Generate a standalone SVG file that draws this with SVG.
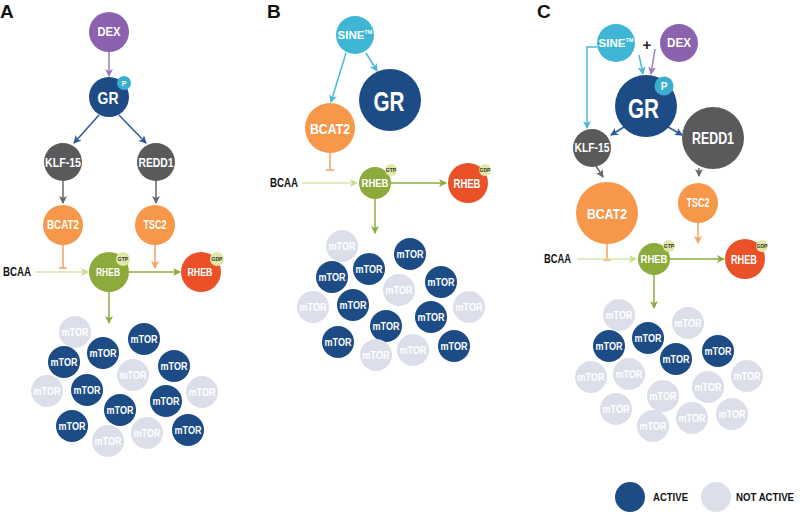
<svg xmlns="http://www.w3.org/2000/svg" width="800" height="518" viewBox="0 0 800 518">
<style>
text{font-family:"Liberation Sans",Arial,sans-serif;font-weight:700}
.c{text-anchor:middle;dominant-baseline:central;fill:#fff}
.dex{fill:#8b62ae}.gr{fill:#1c4b86}.gry{fill:#5a5a5c}.org{fill:#f7974a}.grn{fill:#8cab3c}.red{fill:#ea5128}.sine{fill:#3fb6d6}
.pb{fill:#3aaed0}.gb{fill:#dfe9a6}
.on{fill:#1c4b86}.off{fill:#dcdfea}
.m{font-size:11.5px}
.bt{font-size:5px;fill:#333;text-anchor:middle;dominant-baseline:central}
.lbl{font-size:19px;fill:#111}
.k{font-size:12.5px;fill:#111}
.ln{fill:none;stroke-width:1.5}
</style>
<defs>
<marker id="aP" markerWidth="8" markerHeight="8" refX="7" refY="4" orient="auto" markerUnits="userSpaceOnUse"><path d="M0,0 L8,4 L0,8 L2,4 z" fill="#9a7cc0"/></marker>
<marker id="aB" markerWidth="8" markerHeight="8" refX="7" refY="4" orient="auto" markerUnits="userSpaceOnUse"><path d="M0,0 L8,4 L0,8 L2,4 z" fill="#2c5b99"/></marker>
<marker id="aG" markerWidth="8" markerHeight="8" refX="7" refY="4" orient="auto" markerUnits="userSpaceOnUse"><path d="M0,0 L8,4 L0,8 L2,4 z" fill="#666"/></marker>
<marker id="aO" markerWidth="8" markerHeight="8" refX="7" refY="4" orient="auto" markerUnits="userSpaceOnUse"><path d="M0,0 L8,4 L0,8 L2,4 z" fill="#f4a266"/></marker>
<marker id="aN" markerWidth="8" markerHeight="8" refX="7" refY="4" orient="auto" markerUnits="userSpaceOnUse"><path d="M0,0 L8,4 L0,8 L2,4 z" fill="#8cab3c"/></marker>
<marker id="aL" markerWidth="8" markerHeight="8" refX="7" refY="4" orient="auto" markerUnits="userSpaceOnUse"><path d="M0,0 L8,4 L0,8 L2,4 z" fill="#c9dd90"/></marker>
<marker id="aC" markerWidth="8" markerHeight="8" refX="7" refY="4" orient="auto" markerUnits="userSpaceOnUse"><path d="M0,0 L8,4 L0,8 L2,4 z" fill="#4ab8d6"/></marker>
</defs>
<rect width="800" height="518" fill="#fff"/>

<text class="lbl" x="0" y="18">A</text>
<text class="lbl" x="267" y="18">B</text>
<text class="lbl" x="537" y="18">C</text>

<g id="connectors">
<line class="ln" x1="109" y1="52" x2="109" y2="76" stroke="#9a7cc0" marker-end="url(#aP)"/>
<line class="ln" x1="99" y1="115" x2="74" y2="143" stroke="#2c5b99" marker-end="url(#aB)"/>
<line class="ln" x1="119" y1="115" x2="146" y2="143" stroke="#2c5b99" marker-end="url(#aB)"/>
<line class="ln" x1="63" y1="181" x2="63" y2="203" stroke="#666" marker-end="url(#aG)"/>
<line class="ln" x1="156" y1="181" x2="156" y2="203" stroke="#666" marker-end="url(#aG)"/>
<line class="ln" x1="63" y1="245" x2="63" y2="268" stroke="#f4a266"/>
<line class="ln" x1="59" y1="268" x2="67" y2="268" stroke="#f4a266"/>
<line class="ln" x1="155" y1="245" x2="155" y2="268" stroke="#f4a266" marker-end="url(#aO)"/>
<line class="ln" x1="35" y1="272" x2="88" y2="272" stroke="#d6e6ab" marker-end="url(#aL)"/>
<line class="ln" x1="129" y1="272" x2="180" y2="272" stroke="#8cab3c" marker-end="url(#aN)"/>
<line class="ln" x1="109" y1="292" x2="109" y2="323" stroke="#8cab3c" marker-end="url(#aN)"/>
<line class="ln" x1="366" y1="53" x2="377" y2="71" stroke="#4ab8d6" marker-end="url(#aC)"/>
<line class="ln" x1="346" y1="53" x2="331" y2="102" stroke="#4ab8d6" marker-end="url(#aC)"/>
<line class="ln" x1="330" y1="153" x2="330" y2="170" stroke="#f4a266"/>
<line class="ln" x1="326" y1="170" x2="334" y2="170" stroke="#f4a266"/>
<line class="ln" x1="302" y1="183" x2="357" y2="183" stroke="#d6e6ab" marker-end="url(#aL)"/>
<line class="ln" x1="391" y1="183" x2="446" y2="183" stroke="#8cab3c" marker-end="url(#aN)"/>
<line class="ln" x1="375" y1="199" x2="375" y2="233" stroke="#8cab3c" marker-end="url(#aN)"/>
<line class="ln" x1="639" y1="55" x2="643" y2="74" stroke="#4ab8d6" marker-end="url(#aC)"/>
<line class="ln" x1="655" y1="49" x2="651" y2="74" stroke="#9a7cc0" marker-end="url(#aP)"/>
<polyline class="ln" points="597,47 587,47 587,128" stroke="#4ab8d6" marker-end="url(#aC)"/>
<line class="ln" x1="624" y1="127" x2="611" y2="135" stroke="#2c5b99" marker-end="url(#aB)"/>
<line class="ln" x1="668" y1="127" x2="682" y2="135" stroke="#2c5b99" marker-end="url(#aB)"/>
<line class="ln" x1="596" y1="166" x2="603" y2="177" stroke="#666" marker-end="url(#aG)"/>
<line class="ln" x1="699" y1="168" x2="699" y2="176" stroke="#666" marker-end="url(#aG)"/>
<line class="ln" x1="607" y1="244" x2="607" y2="260" stroke="#f4a266"/>
<line class="ln" x1="603" y1="260" x2="611" y2="260" stroke="#f4a266"/>
<line class="ln" x1="698" y1="223" x2="698" y2="243" stroke="#f4a266" marker-end="url(#aO)"/>
<line class="ln" x1="577" y1="259" x2="636" y2="259" stroke="#d6e6ab" marker-end="url(#aL)"/>
<line class="ln" x1="670" y1="259" x2="724" y2="259" stroke="#8cab3c" marker-end="url(#aN)"/>
<line class="ln" x1="654" y1="275" x2="654" y2="308" stroke="#8cab3c" marker-end="url(#aN)"/>
</g>

<g id="A-DEX"><circle class="dex" cx="109" cy="32" r="20"/><text class="c" x="109" y="32" font-size="12" textLength="23" lengthAdjust="spacingAndGlyphs">DEX</text></g>
<g id="A-GR"><circle class="gr" cx="109" cy="97" r="20"/><text class="c" x="108" y="98" font-size="17" textLength="21" lengthAdjust="spacingAndGlyphs">GR</text><circle class="pb" cx="124" cy="83" r="7"/><text class="c" x="124" y="83" font-size="7">P</text></g>
<g id="A-KLF15"><circle class="gry" cx="63" cy="162" r="19"/><text class="c" x="63" y="162" font-size="13" textLength="36" lengthAdjust="spacingAndGlyphs">KLF-15</text></g>
<g id="A-REDD1"><circle class="gry" cx="156" cy="162" r="19"/><text class="c" x="156" y="162" font-size="13" textLength="35" lengthAdjust="spacingAndGlyphs">REDD1</text></g>
<g id="A-BCAT2"><circle class="org" cx="63" cy="225" r="20"/><text class="c" x="63" y="225" font-size="12.5" textLength="32" lengthAdjust="spacingAndGlyphs">BCAT2</text></g>
<g id="A-TSC2"><circle class="org" cx="155" cy="225" r="20"/><text class="c" x="155" y="225" font-size="12.5" textLength="23" lengthAdjust="spacingAndGlyphs">TSC2</text></g>
<g id="A-BCAA"><text class="k" x="3" y="276" textLength="28" lengthAdjust="spacingAndGlyphs">BCAA</text></g>
<g id="A-RHEB-GTP"><circle class="grn" cx="109" cy="272" r="20"/><text class="c" x="108" y="272" font-size="11.5" textLength="24" lengthAdjust="spacingAndGlyphs">RHEB</text><circle class="gb" cx="123" cy="259" r="7"/><text class="bt" x="123" y="259">GTP</text></g>
<g id="A-RHEB-GDP"><circle class="red" cx="201" cy="272" r="20"/><text class="c" x="200" y="272" font-size="11.5" textLength="25" lengthAdjust="spacingAndGlyphs">RHEB</text><circle class="gb" cx="217" cy="259" r="7"/><text class="bt" x="217" y="259">GDP</text></g>

<g id="A-mTOR">
<g id="A-m1"><circle class="off" cx="75" cy="332" r="16"/><text class="c m" x="75" y="332" textLength="27" lengthAdjust="spacingAndGlyphs">mTOR</text></g>
<g id="A-m2"><circle class="on" cx="103" cy="353" r="16"/><text class="c m" x="103" y="353" textLength="27" lengthAdjust="spacingAndGlyphs">mTOR</text></g>
<g id="A-m3"><circle class="on" cx="144" cy="339" r="16"/><text class="c m" x="144" y="339" textLength="27" lengthAdjust="spacingAndGlyphs">mTOR</text></g>
<g id="A-m4"><circle class="on" cx="64" cy="362" r="16"/><text class="c m" x="64" y="362" textLength="27" lengthAdjust="spacingAndGlyphs">mTOR</text></g>
<g id="A-m5"><circle class="off" cx="133" cy="375" r="16"/><text class="c m" x="133" y="375" textLength="27" lengthAdjust="spacingAndGlyphs">mTOR</text></g>
<g id="A-m6"><circle class="on" cx="174" cy="366" r="16"/><text class="c m" x="174" y="366" textLength="27" lengthAdjust="spacingAndGlyphs">mTOR</text></g>
<g id="A-m7"><circle class="off" cx="47" cy="391" r="16"/><text class="c m" x="47" y="391" textLength="27" lengthAdjust="spacingAndGlyphs">mTOR</text></g>
<g id="A-m8"><circle class="on" cx="87" cy="390" r="16"/><text class="c m" x="87" y="390" textLength="27" lengthAdjust="spacingAndGlyphs">mTOR</text></g>
<g id="A-m9"><circle class="on" cx="166" cy="401" r="16"/><text class="c m" x="166" y="401" textLength="27" lengthAdjust="spacingAndGlyphs">mTOR</text></g>
<g id="A-m10"><circle class="off" cx="202" cy="392" r="16"/><text class="c m" x="202" y="392" textLength="27" lengthAdjust="spacingAndGlyphs">mTOR</text></g>
<g id="A-m11"><circle class="on" cx="120" cy="410" r="16"/><text class="c m" x="120" y="410" textLength="27" lengthAdjust="spacingAndGlyphs">mTOR</text></g>
<g id="A-m12"><circle class="on" cx="72" cy="426" r="16"/><text class="c m" x="72" y="426" textLength="27" lengthAdjust="spacingAndGlyphs">mTOR</text></g>
<g id="A-m13"><circle class="off" cx="108" cy="441" r="16"/><text class="c m" x="108" y="441" textLength="27" lengthAdjust="spacingAndGlyphs">mTOR</text></g>
<g id="A-m14"><circle class="off" cx="147" cy="433" r="16"/><text class="c m" x="147" y="433" textLength="27" lengthAdjust="spacingAndGlyphs">mTOR</text></g>
<g id="A-m15"><circle class="on" cx="188" cy="430" r="16"/><text class="c m" x="188" y="430" textLength="27" lengthAdjust="spacingAndGlyphs">mTOR</text></g>
</g>

<g id="B-SINE"><circle class="sine" cx="355" cy="35" r="19"/><text class="c" x="355" y="35" font-size="11.5">SINE<tspan font-size="5.5" dy="-3">TM</tspan></text></g>
<g id="B-GR"><circle class="gr" cx="390" cy="100" r="31"/><text class="c" x="389" y="101" font-size="28" textLength="31" lengthAdjust="spacingAndGlyphs">GR</text></g>
<g id="B-BCAT2"><circle class="org" cx="330" cy="128" r="25"/><text class="c" x="330" y="128" font-size="15" textLength="40" lengthAdjust="spacingAndGlyphs">BCAT2</text></g>
<g id="B-BCAA"><text class="k" x="270" y="187" textLength="28" lengthAdjust="spacingAndGlyphs">BCAA</text></g>
<g id="B-RHEB-GTP"><circle class="grn" cx="375" cy="183" r="16"/><text class="c" x="375" y="183" font-size="11.5" textLength="27" lengthAdjust="spacingAndGlyphs">RHEB</text><circle class="gb" cx="391" cy="170" r="6"/><text class="bt" x="391" y="170" font-size="4.5">GTP</text></g>
<g id="B-RHEB-GDP"><circle class="red" cx="468" cy="183" r="20"/><text class="c" x="467" y="184" font-size="12" textLength="27" lengthAdjust="spacingAndGlyphs">RHEB</text><circle class="gb" cx="485" cy="170" r="6"/><text class="bt" x="485" y="170" font-size="4.5">GDP</text></g>

<g id="B-mTOR">
<g id="B-m1"><circle class="off" cx="342" cy="246" r="16"/><text class="c m" x="342" y="246" textLength="27" lengthAdjust="spacingAndGlyphs">mTOR</text></g>
<g id="B-m2"><circle class="on" cx="410" cy="254" r="16"/><text class="c m" x="410" y="254" textLength="27" lengthAdjust="spacingAndGlyphs">mTOR</text></g>
<g id="B-m3"><circle class="on" cx="369" cy="269" r="16"/><text class="c m" x="369" y="269" textLength="27" lengthAdjust="spacingAndGlyphs">mTOR</text></g>
<g id="B-m4"><circle class="on" cx="332" cy="277" r="16"/><text class="c m" x="332" y="277" textLength="27" lengthAdjust="spacingAndGlyphs">mTOR</text></g>
<g id="B-m5"><circle class="on" cx="441" cy="282" r="16"/><text class="c m" x="441" y="282" textLength="27" lengthAdjust="spacingAndGlyphs">mTOR</text></g>
<g id="B-m6"><circle class="off" cx="399" cy="290" r="16"/><text class="c m" x="399" y="290" textLength="27" lengthAdjust="spacingAndGlyphs">mTOR</text></g>
<g id="B-m7"><circle class="off" cx="313" cy="307" r="16"/><text class="c m" x="313" y="307" textLength="27" lengthAdjust="spacingAndGlyphs">mTOR</text></g>
<g id="B-m8"><circle class="on" cx="353" cy="305" r="16"/><text class="c m" x="353" y="305" textLength="27" lengthAdjust="spacingAndGlyphs">mTOR</text></g>
<g id="B-m9"><circle class="off" cx="469" cy="307" r="16"/><text class="c m" x="469" y="307" textLength="27" lengthAdjust="spacingAndGlyphs">mTOR</text></g>
<g id="B-m10"><circle class="on" cx="431" cy="317" r="16"/><text class="c m" x="431" y="317" textLength="27" lengthAdjust="spacingAndGlyphs">mTOR</text></g>
<g id="B-m11"><circle class="on" cx="386" cy="326" r="16"/><text class="c m" x="386" y="326" textLength="27" lengthAdjust="spacingAndGlyphs">mTOR</text></g>
<g id="B-m12"><circle class="on" cx="338" cy="342" r="16"/><text class="c m" x="338" y="342" textLength="27" lengthAdjust="spacingAndGlyphs">mTOR</text></g>
<g id="B-m13"><circle class="off" cx="376" cy="355" r="16"/><text class="c m" x="376" y="355" textLength="27" lengthAdjust="spacingAndGlyphs">mTOR</text></g>
<g id="B-m14"><circle class="off" cx="413" cy="350" r="16"/><text class="c m" x="413" y="350" textLength="27" lengthAdjust="spacingAndGlyphs">mTOR</text></g>
<g id="B-m15"><circle class="on" cx="454" cy="346" r="16"/><text class="c m" x="454" y="346" textLength="27" lengthAdjust="spacingAndGlyphs">mTOR</text></g>
</g>

<g id="C-SINE"><circle class="sine" cx="616" cy="43" r="19"/><text class="c" x="616" y="43" font-size="11.5">SINE<tspan font-size="5.5" dy="-3">TM</tspan></text></g>
<g id="C-plus"><text class="c" x="647" y="44" font-size="15" style="fill:#222">+</text></g>
<g id="C-DEX"><circle class="dex" cx="679" cy="43" r="19"/><text class="c" x="679" y="43" font-size="12" textLength="24" lengthAdjust="spacingAndGlyphs">DEX</text></g>
<g id="C-GR"><circle class="gr" cx="646" cy="106" r="31"/><text class="c" x="643.5" y="108" font-size="28" textLength="31" lengthAdjust="spacingAndGlyphs">GR</text><circle class="pb" cx="664" cy="86" r="9.5"/><text class="c" x="664" y="86" font-size="10">P</text></g>
<g id="C-KLF15"><circle class="gry" cx="592" cy="148" r="19"/><text class="c" x="592" y="148" font-size="12.5" textLength="35" lengthAdjust="spacingAndGlyphs">KLF-15</text></g>
<g id="C-REDD1"><circle class="gry" cx="713" cy="138" r="31"/><text class="c" x="713" y="138" font-size="16" textLength="42" lengthAdjust="spacingAndGlyphs">REDD1</text></g>
<g id="C-BCAT2"><circle class="org" cx="607" cy="213" r="31"/><text class="c" x="607" y="213" font-size="15.5" textLength="40" lengthAdjust="spacingAndGlyphs">BCAT2</text></g>
<g id="C-TSC2"><circle class="org" cx="698" cy="203" r="20"/><text class="c" x="698" y="203" font-size="12.5" textLength="23" lengthAdjust="spacingAndGlyphs">TSC2</text></g>
<g id="C-BCAA"><text class="k" x="544" y="263" textLength="27" lengthAdjust="spacingAndGlyphs">BCAA</text></g>
<g id="C-RHEB-GTP"><circle class="grn" cx="654" cy="259" r="16"/><text class="c" x="654" y="259" font-size="11.5" textLength="27" lengthAdjust="spacingAndGlyphs">RHEB</text><circle class="gb" cx="669" cy="246" r="6"/><text class="bt" x="669" y="246" font-size="4.5">GTP</text></g>
<g id="C-RHEB-GDP"><circle class="red" cx="745" cy="259" r="20"/><text class="c" x="744" y="260" font-size="12" textLength="26" lengthAdjust="spacingAndGlyphs">RHEB</text><circle class="gb" cx="762" cy="246" r="6"/><text class="bt" x="762" y="246" font-size="4.5">GDP</text></g>

<g id="C-mTOR">
<g id="C-m1"><circle class="off" cx="619" cy="315" r="16"/><text class="c m" x="619" y="315" textLength="27" lengthAdjust="spacingAndGlyphs">mTOR</text></g>
<g id="C-m2"><circle class="off" cx="688" cy="323" r="16"/><text class="c m" x="688" y="323" textLength="27" lengthAdjust="spacingAndGlyphs">mTOR</text></g>
<g id="C-m3"><circle class="on" cx="648" cy="338" r="16"/><text class="c m" x="648" y="338" textLength="27" lengthAdjust="spacingAndGlyphs">mTOR</text></g>
<g id="C-m4"><circle class="on" cx="609" cy="346" r="16"/><text class="c m" x="609" y="346" textLength="27" lengthAdjust="spacingAndGlyphs">mTOR</text></g>
<g id="C-m5"><circle class="on" cx="676" cy="359" r="16"/><text class="c m" x="676" y="359" textLength="27" lengthAdjust="spacingAndGlyphs">mTOR</text></g>
<g id="C-m6"><circle class="on" cx="718" cy="351" r="16"/><text class="c m" x="718" y="351" textLength="27" lengthAdjust="spacingAndGlyphs">mTOR</text></g>
<g id="C-m7"><circle class="off" cx="591" cy="377" r="16"/><text class="c m" x="591" y="377" textLength="27" lengthAdjust="spacingAndGlyphs">mTOR</text></g>
<g id="C-m8"><circle class="off" cx="629" cy="374" r="16"/><text class="c m" x="629" y="374" textLength="27" lengthAdjust="spacingAndGlyphs">mTOR</text></g>
<g id="C-m9"><circle class="off" cx="747" cy="376" r="16"/><text class="c m" x="747" y="376" textLength="27" lengthAdjust="spacingAndGlyphs">mTOR</text></g>
<g id="C-m10"><circle class="off" cx="708" cy="387" r="16"/><text class="c m" x="708" y="387" textLength="27" lengthAdjust="spacingAndGlyphs">mTOR</text></g>
<g id="C-m11"><circle class="off" cx="663" cy="396" r="16"/><text class="c m" x="663" y="396" textLength="27" lengthAdjust="spacingAndGlyphs">mTOR</text></g>
<g id="C-m12"><circle class="off" cx="616" cy="409" r="16"/><text class="c m" x="616" y="409" textLength="27" lengthAdjust="spacingAndGlyphs">mTOR</text></g>
<g id="C-m13"><circle class="off" cx="732" cy="414" r="16"/><text class="c m" x="732" y="414" textLength="27" lengthAdjust="spacingAndGlyphs">mTOR</text></g>
<g id="C-m14"><circle class="off" cx="692" cy="418" r="16"/><text class="c m" x="692" y="418" textLength="27" lengthAdjust="spacingAndGlyphs">mTOR</text></g>
<g id="C-m15"><circle class="off" cx="653" cy="426" r="16"/><text class="c m" x="653" y="426" textLength="27" lengthAdjust="spacingAndGlyphs">mTOR</text></g>
</g>

<g id="legend">
<circle class="on" cx="630" cy="497" r="15"/><text class="k" x="653" y="501" style="font-size:11px" textLength="35" lengthAdjust="spacingAndGlyphs">ACTIVE</text>
<circle class="off" cx="716" cy="497" r="15"/><text class="k" x="736" y="501" style="font-size:10.5px" textLength="58" lengthAdjust="spacingAndGlyphs">NOT ACTIVE</text>
</g>
</svg>
